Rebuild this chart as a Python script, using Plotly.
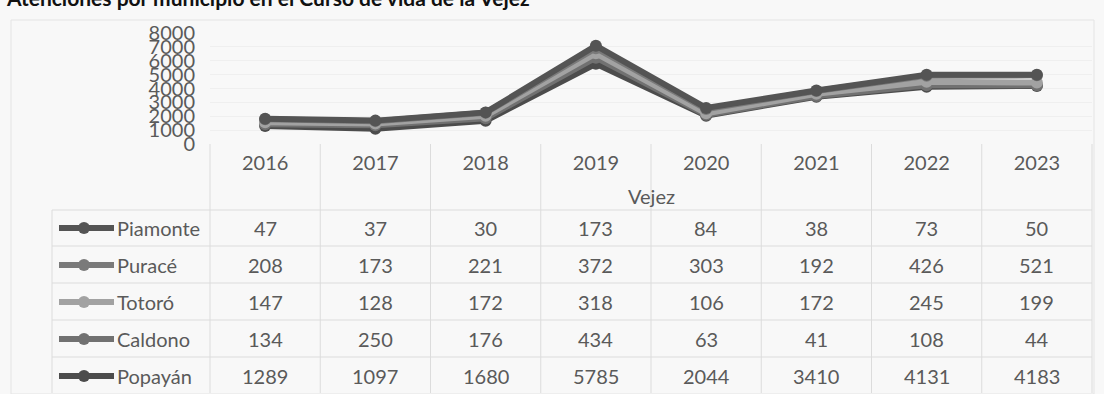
import plotly.graph_objects as go

# Data
years = ["2016", "2017", "2018", "2019", "2020", "2021", "2022", "2023"]
municipios = ["Piamonte", "Puracé", "Totoró", "Caldono", "Popayán"]
piamonte = [47, 37, 30, 173, 84, 38, 73, 50]
purace = [208, 173, 221, 372, 303, 192, 426, 521]
totoro = [147, 128, 172, 318, 106, 172, 245, 199]
caldono = [134, 250, 176, 434, 63, 41, 108, 44]
popayan = [1289, 1097, 1680, 5785, 2044, 3410, 4131, 4183]
y_ticks = [0, 1000, 2000, 3000, 4000, 5000, 6000, 7000, 8000]

series = {
    "Piamonte": piamonte,
    "Puracé": purace,
    "Totoró": totoro,
    "Caldono": caldono,
    "Popayán": popayan,
}
colors = {
    "Piamonte": "#545454",
    "Puracé": "#7a7a7a",
    "Totoró": "#a2a2a2",
    "Caldono": "#717171",
    "Popayán": "#4c4c4c",
}

W, H = 1104, 394
L, R, T, B = 210, 12, 33, 250
PW, PH = W - L - R, H - T - B


def fx(x):
    return (x - L) / PW


def fy(y):
    return (H - B - y) / PH


TXT = "#5a5a5a"
FONT = "Lato, 'Open Sans', sans-serif"
FS = 20

fig = go.Figure()

# Stacked lines: Popayán forms the base, the others accumulate above it
for name in ["Popayán", "Caldono", "Totoró", "Puracé", "Piamonte"]:
    fig.add_trace(go.Scatter(
        x=years, y=series[name], name=name, stackgroup="vejez", fill="none",
        mode="lines+markers",
        line=dict(color=colors[name], width=6),
        marker=dict(color=colors[name], size=12),
        showlegend=False,
    ))

annotations = []
shapes = []

# Title (sits at the very top edge)
annotations.append(dict(
    x=fx(4), y=fy(-3), xref="paper", yref="paper", xanchor="left", yanchor="middle",
    text="<b>Atenciones por municipio en el Curso de vida de la Vejez</b>",
    showarrow=False, font=dict(family="Lato, sans-serif", size=21, color="#111"),
))

# Axis title
annotations.append(dict(
    x=0.5, y=fy(196), xref="paper", yref="paper", xanchor="center", yanchor="middle",
    text="Vejez", showarrow=False, font=dict(family=FONT, size=FS, color=TXT),
))

# Data table
row_y = [228, 265, 302, 339, 376]
for r, name in enumerate(municipios):
    yy = fy(row_y[r])
    shapes.append(dict(type="line", xref="paper", yref="paper",
                       x0=fx(59), x1=fx(114), y0=yy, y1=yy,
                       line=dict(color=colors[name], width=6)))
    shapes.append(dict(type="circle", xref="paper", yref="paper",
                       x0=fx(78), x1=fx(90), y0=fy(row_y[r] + 6), y1=fy(row_y[r] - 6),
                       fillcolor=colors[name], line=dict(width=0)))
    annotations.append(dict(
        x=fx(115), y=yy, xref="paper", yref="paper", xanchor="left", yanchor="middle",
        text=name, showarrow=False, font=dict(family=FONT, size=FS, color=TXT),
    ))
    for c, v in enumerate(series[name]):
        annotations.append(dict(
            x=(c + 0.5) / len(years), y=yy, xref="paper", yref="paper",
            xanchor="center", yanchor="middle", text=str(v), showarrow=False,
            font=dict(family=FONT, size=FS, color=TXT),
        ))

GRID = "#dcdcdc"
top_t, bot_t = 210, 393
# horizontal table rules
for yline in [top_t, 246, 283, 320, 357]:
    shapes.append(dict(type="line", xref="paper", yref="paper",
                       x0=fx(52), x1=1, y0=fy(yline), y1=fy(yline),
                       line=dict(color=GRID, width=1)))
# vertical table rules
for c in range(len(years) + 1):
    shapes.append(dict(type="line", xref="paper", yref="paper",
                       x0=c / len(years), x1=c / len(years),
                       y0=0, y1=fy(bot_t),
                       line=dict(color=GRID, width=1)))
shapes.append(dict(type="line", xref="paper", yref="paper",
                   x0=fx(52), x1=fx(52), y0=fy(top_t), y1=fy(bot_t),
                   line=dict(color=GRID, width=1)))
# outer chart frame
shapes.append(dict(type="rect", xref="paper", yref="paper",
                   x0=fx(11), x1=fx(1094), y0=fy(20), y1=fy(394),
                   line=dict(color="#e4e4e4", width=1), layer="below"))

fig.update_layout(
    width=W, height=H,
    margin=dict(l=L, r=R, t=T, b=B, pad=0),
    paper_bgcolor="#f8f8f8", plot_bgcolor="#f8f8f8",
    font=dict(family=FONT, size=FS, color=TXT),
    annotations=annotations, shapes=shapes,
    xaxis=dict(type="category", range=[-0.5, 7.5], showgrid=False, showline=False,
               ticks="", tickfont=dict(size=FS, color=TXT), ticklabelstandoff=5),
    yaxis=dict(range=[0, 8000], tickvals=y_ticks, showgrid=True, gridcolor="#efefef",
               zeroline=False, showline=False, ticks="",
               tickfont=dict(size=FS, color=TXT), ticklabelstandoff=14),
)

fig.write_html("out.html")
